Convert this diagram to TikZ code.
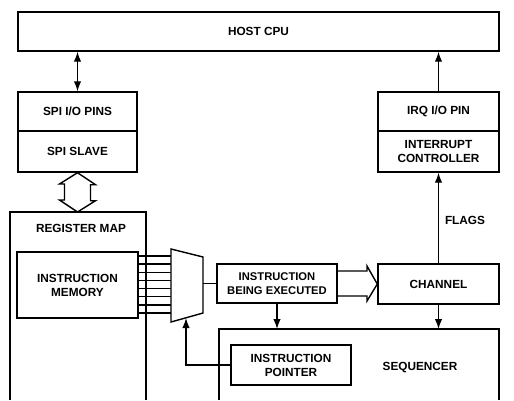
\documentclass[tikz,border=0pt]{standalone}
\usepackage{fontspec}
\setmainfont{Liberation Sans}
\usetikzlibrary{arrows.meta}
\begin{document}
\begin{tikzpicture}[x=1pt,y=-1pt,line width=1.4pt,
  lbl/.style={font=\fontsize{11.8}{14}\selectfont\bfseries,align=center,inner sep=0pt},
  box/.style={draw,lbl,minimum width=#1},
  arr/.style={-{Latex[length=10pt,width=7.5pt]}},
  darr/.style={{Latex[length=10pt,width=7.5pt]}-{Latex[length=10pt,width=7.5pt]}}]
\fill[white] (0,0) rectangle (514,400);
\useasboundingbox (0,0) rectangle (514,400);
% boxes
\node[box=481pt,minimum height=39pt] (cpu) at (258.5,31.5) {HOST CPU};
\node[box=119pt,minimum height=39pt] (spi) at (77.5,111.5) {SPI I/O PINS};
\node[box=119pt,minimum height=41pt] (slave) at (77.5,151.5) {SPI SLAVE};
\node[box=121pt,minimum height=39pt] (irq) at (438.5,111.5) {IRQ I/O PIN};
\node[box=121pt,minimum height=41pt] (ic) at (438.5,151.5) {INTERRUPT\\CONTROLLER};
\node[box=121pt,minimum height=66pt] (im) at (77.5,285) {INSTRUCTION\\MEMORY};
\node[box=120pt,minimum height=39pt,font=\fontsize{11.2}{14}\selectfont\bfseries] (ibe) at (277,283.5) {INSTRUCTION\\BEING EXECUTED};
\node[box=121pt,minimum height=40pt] (chan) at (438.5,284) {CHANNEL};
\node[box=120pt,minimum height=40pt] (ip) at (291,365) {INSTRUCTION\\POINTER};
% open boxes
\coordinate (rmtop) at (146,212);
\draw (10,400) |- (rmtop) -- (146,400);
\node[lbl] (rmlbl) at (81,228) {REGISTER MAP};
\coordinate (seqtop) at (499,329);
\draw (219,400) |- (seqtop) -- (499,400);
\node[lbl] (seqlbl) at (420,368) {SEQUENCER};
% mux
\coordinate (mux1) at (171,249);
\coordinate (mux2) at (203,257);
\coordinate (mux3) at (203,313);
\coordinate (mux4) at (171,322);
\draw[line join=miter] (mux1) -- (mux2) -- (mux3) -- (mux4) -- cycle;
\foreach \i in {0,...,7}{
  \draw (im.east |- 0,{256+8.14*\i}) -- (mux1 |- 0,{256+8.14*\i});
}
\draw (ibe.west -| mux2) -- (ibe.west);
\coordinate (ipup) at (186,318);
\draw[arr] (ip.west) -| (ipup);
% arrows
\draw[darr] (spi.north) -- (spi.north |- cpu.south);
\draw[arr] (irq.north) -- (irq.north |- cpu.south);
\draw[arr] (chan.north) -- (ic.south);
\node[lbl] (flags) at (465,220) {FLAGS};
\draw[arr] (chan.south) -- (chan.south |- seqtop);
\draw[arr] (ibe.south) -- (ibe.south |- seqtop);
% hollow double arrow
\draw[line join=miter] (slave.south) -- ++(18,12) -- ++(-5,0) -- ++(0,16) -- ++(5,0)
  -- (slave.south |- rmtop) -- ++(-18,-12) -- ++(5,0) -- ++(0,-16) -- ++(-5,0) -- cycle;
% hollow right arrow
\draw[line join=miter] (ibe.east |- 0,271) -- (367,271) -- (367,266) -- (chan.west)
  -- (367,301) -- (367,296) -- (ibe.east |- 0,296);
\end{tikzpicture}
\end{document}
